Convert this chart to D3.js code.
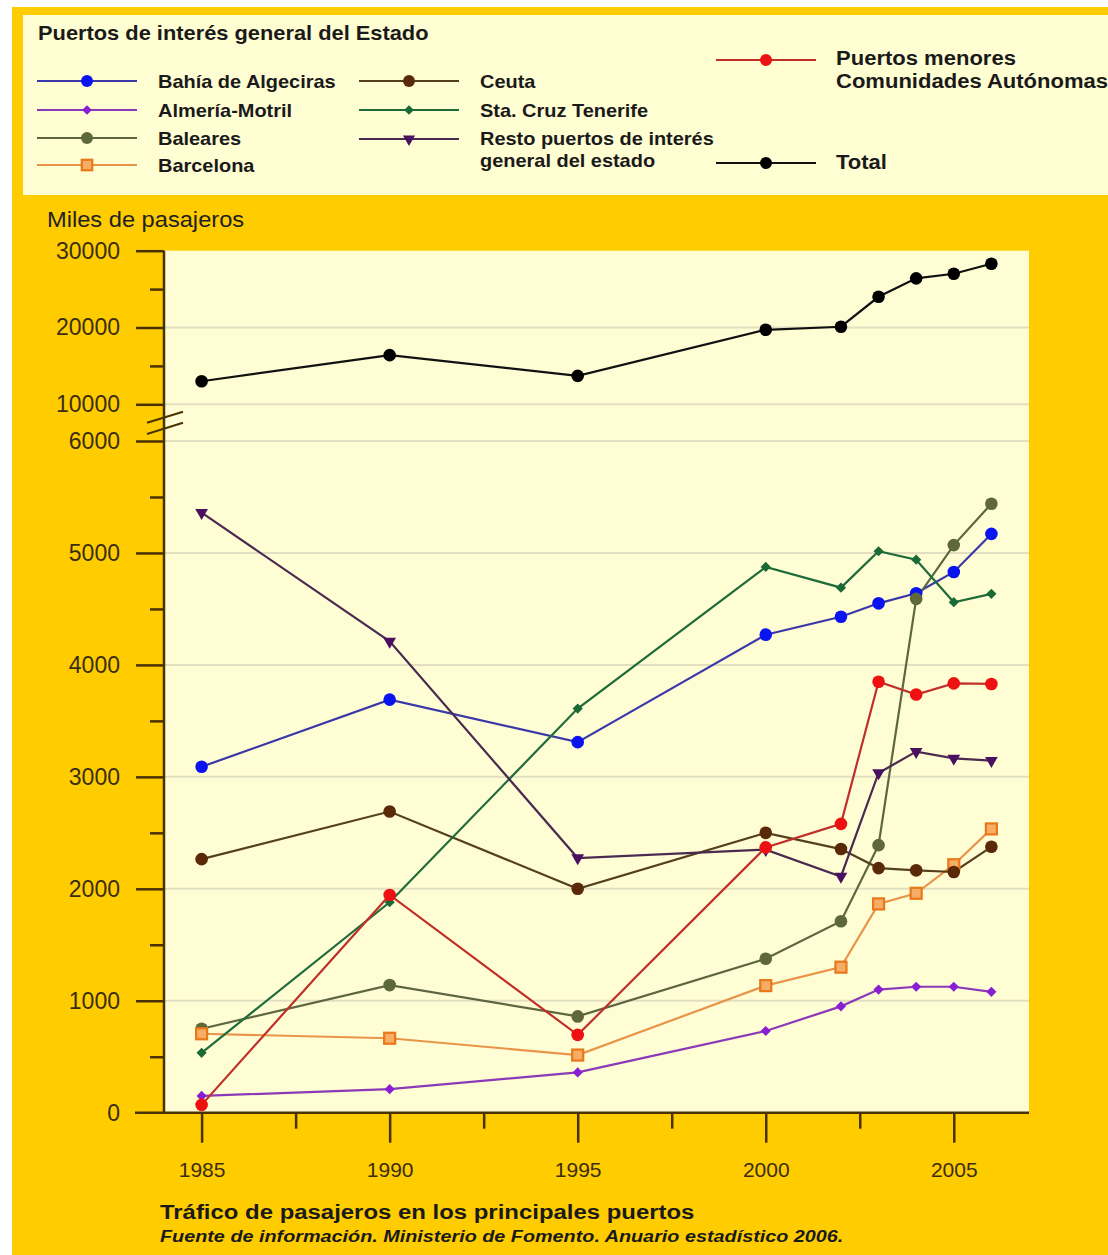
<!DOCTYPE html>
<html><head><meta charset="utf-8">
<script src="https://cdn.jsdelivr.net/npm/d3@7"></script>
<style>body{margin:0;background:#fff}svg{display:block}text{font-family:"Liberation Sans",Arial,sans-serif}</style>
</head><body>
<script>
// ---------- DATA ----------
const years = [1985, 1990, 1995, 2000, 2002, 2003, 2004, 2005, 2006];
const algeciras = [3090, 3690, 3310, 4270, 4430, 4550, 4640, 4830, 5170];
const almeria   = [150, 210, 360, 730, 950, 1100, 1125, 1125, 1080];
const baleares  = [750, 1140, 860, 1375, 1710, 2390, 4590, 5070, 5440];
const barcelona = [705, 665, 515, 1135, 1300, 1865, 1960, 2215, 2535];
const ceuta     = [2265, 2690, 2000, 2500, 2355, 2185, 2165, 2150, 2375];
const tenerife  = [535, 1880, 3610, 4875, 4690, 5015, 4940, 4560, 4635];
const resto     = [5360, 4210, 2275, 2350, 2110, 3035, 3225, 3165, 3145];
const menores   = [70, 1945, 695, 2370, 2580, 3850, 3735, 3835, 3830];
const total     = [13000, 16400, 13700, 19700, 20100, 24000, 26400, 27000, 28300];

const xTickYears = [1985, 1990, 1995, 2000, 2005];
const xMinorYears = [1987.5, 1992.5, 1997.5, 2002.5];
const yTopMajor = [10000, 20000, 30000];
const yTopMinor = [15000, 25000];
const yBotMajor = [0, 1000, 2000, 3000, 4000, 5000, 6000];
const yBotMinor = [500, 1500, 2500, 3500, 4500, 5500];

const legendTitle = "Puertos de interés general del Estado";
const yTitle = "Miles de pasajeros";
const chartTitle = "Tráfico de pasajeros en los principales puertos";
const sourceText = "Fuente de información. Ministerio de Fomento. Anuario estadístico 2006.";

const series = [
  {name:["Bahía de Algeciras"], values:algeciras, line:"#3a38a8", mark:"#0a14f0", shape:"circle"},
  {name:["Almería-Motril"], values:almeria, line:"#8a3ab8", mark:"#8a1ed2", shape:"diamond"},
  {name:["Baleares"], values:baleares, line:"#5d6640", mark:"#5e6838", shape:"circle"},
  {name:["Barcelona"], values:barcelona, line:"#e8954a", mark:"#e8781a", shape:"square"},
  {name:["Ceuta"], values:ceuta, line:"#54401f", mark:"#5a2a08", shape:"circle"},
  {name:["Sta. Cruz Tenerife"], values:tenerife, line:"#1f6b3a", mark:"#1a6a35", shape:"diamond"},
  {name:["Resto puertos de interés","general del estado"], values:resto, line:"#4a2a50", mark:"#4a1060", shape:"triangle"},
  {name:["Puertos menores","Comunidades Autónomas"], values:menores, line:"#c0302a", mark:"#ee1111", shape:"circle"},
  {name:["Total"], values:total, line:"#111111", mark:"#000000", shape:"circle"}
];

// ---------- LAYOUT ----------
const W = 1108, H = 1255;
const P = {l:164, r:1029, t:250.7, b:1112.7};
const BG = "#FFCC00", PANEL = "#FFFDD4", AXIS = "#4a3200", GRID = "#e2dfc0";

const svg = d3.select("body").append("svg").attr("width", W).attr("height", H);
svg.append("rect").attr("width", W).attr("height", H).attr("fill", "#fff");
svg.append("rect").attr("x", 12).attr("y", 7).attr("width", W-12).attr("height", H-7).attr("fill", BG);
svg.append("rect").attr("x", 23).attr("y", 15).attr("width", W-23).attr("height", 180).attr("fill", "#FFFDD2");
svg.append("rect").attr("x", P.l).attr("y", P.t).attr("width", P.r-P.l).attr("height", P.b-P.t).attr("fill", PANEL);

// text helper (horizontal stretch to match the reference's wide lettering)
function addText(g, tx, ty, str, size, opts){
  opts = opts || {};
  return g.append("text")
    .attr("transform", `translate(${tx},${ty}) scale(${opts.sx || 1},1)`)
    .attr("dy", opts.dy || null)
    .attr("font-size", size)
    .attr("font-weight", opts.bold ? "bold" : null)
    .attr("font-style", opts.italic ? "italic" : null)
    .attr("fill", opts.fill || "#1a1a1a")
    .text(str);
}

// scales
const x = d3.scaleLinear().domain([1984, 2007]).range([P.l, P.r]);
const yTop = d3.scaleLinear().domain([10000, 30000]).range([404.3, P.t]);
const yBot = d3.scaleLinear().domain([0, 6000]).range([P.b, 441]);
const y = v => v >= 10000 ? yTop(v) : yBot(v);

// gridlines
const gridVals = [20000, 10000, 6000, 5000, 4000, 3000, 2000, 1000];
svg.append("g").selectAll("line").data(gridVals).join("line")
  .attr("x1", P.l).attr("x2", P.r).attr("y1", d => y(d)).attr("y2", d => y(d))
  .attr("stroke", GRID).attr("stroke-width", 2);

// y axes
function styleAxis(g){
  g.select(".domain").remove();
  g.selectAll(".tick line").attr("stroke", AXIS).attr("stroke-width", 2.5);
  g.selectAll(".tick text").attr("fill", "#3b2e10").attr("font-size", 23)
    .attr("font-family", "Liberation Sans, Arial, sans-serif");
}
const fmt = d3.format("d");
svg.append("g").attr("transform", `translate(${P.l},0)`)
  .call(d3.axisLeft(yTop).tickValues(yTopMajor).tickSize(28).tickPadding(16).tickFormat(fmt)).call(styleAxis);
svg.append("g").attr("transform", `translate(${P.l},0)`)
  .call(d3.axisLeft(yTop).tickValues(yTopMinor).tickSize(14).tickFormat("")).call(styleAxis);
svg.append("g").attr("transform", `translate(${P.l},0)`)
  .call(d3.axisLeft(yBot).tickValues(yBotMajor.filter(v=>v>0)).tickSize(28).tickPadding(16).tickFormat(fmt)).call(styleAxis);
svg.append("g").attr("transform", `translate(${P.l},0)`)
  .call(d3.axisLeft(yBot).tickValues(yBotMinor).tickSize(14).tickFormat("")).call(styleAxis);
// zero label (its tick is the x-axis line extension)
svg.append("text").attr("x", 120).attr("y", y(0)).attr("dy", "0.35em").attr("text-anchor", "end")
  .attr("fill", "#3b2e10").attr("font-size", 23).text("0");

// x axis
svg.append("g").attr("transform", `translate(0,${P.b})`)
  .call(d3.axisBottom(x).tickValues(xTickYears).tickSize(30).tickPadding(19).tickFormat(fmt)).call(styleAxis)
  .selectAll(".tick text").attr("font-size", 21);
svg.append("g").attr("transform", `translate(0,${P.b})`)
  .call(d3.axisBottom(x).tickValues(xMinorYears).tickSize(16).tickFormat("")).call(styleAxis);

// axis lines
svg.append("line").attr("x1", P.l).attr("x2", P.l).attr("y1", P.t).attr("y2", P.b)
  .attr("stroke", AXIS).attr("stroke-width", 2.5);
svg.append("line").attr("x1", 135).attr("x2", P.r).attr("y1", P.b).attr("y2", P.b)
  .attr("stroke", AXIS).attr("stroke-width", 2.5);
// break marks
svg.append("line").attr("x1", 147).attr("y1", 422.7).attr("x2", 183).attr("y2", 411.7).attr("stroke", AXIS).attr("stroke-width", 2);
svg.append("line").attr("x1", 147).attr("y1", 434).attr("x2", 183).attr("y2", 422.7).attr("stroke", AXIS).attr("stroke-width", 2);

// markers
function drawMarker(g, shape, color, cx, cy, s){
  s = s || 1;
  if (shape === "circle") {
    g.append("circle").attr("cx", cx).attr("cy", cy).attr("r", 6.3*s).attr("fill", color);
  } else if (shape === "diamond") {
    g.append("path").attr("d", d3.symbol(d3.symbolSquare, 52*s*s)()).attr("fill", color)
      .attr("transform", `translate(${cx},${cy}) rotate(45)`);
  } else if (shape === "square") {
    g.append("rect").attr("x", cx-5.5*s).attr("y", cy-5.5*s).attr("width", 11*s).attr("height", 11*s)
      .attr("fill", "#f6ad66").attr("stroke", color).attr("stroke-width", 2.2);
  } else if (shape === "triangle") {
    g.append("path").attr("d", d3.symbol(d3.symbolTriangle, 70*s*s)()).attr("fill", color)
      .attr("transform", `translate(${cx},${cy}) rotate(180)`);
  }
}

const line = d3.line().x((d,i) => x(years[i])).y(d => y(d));
const plot = svg.append("g");
series.forEach(s => {
  plot.append("path").attr("d", line(s.values)).attr("fill", "none")
    .attr("stroke", s.line).attr("stroke-width", 2.2);
});
series.forEach(s => {
  const g = plot.append("g");
  s.values.forEach((v,i) => drawMarker(g, s.shape, s.mark, x(years[i]), y(v)));
});

// axis title
addText(svg, 47, 227, yTitle, 21.5, {sx:1.1, fill:"#222"});

// legend
addText(svg, 38, 40, legendTitle, 19.5, {bold:true, sx:1.12});
const legendPos = [
  {lx:37, mx:87, tx:158, y:81, fs:19, sx:1.05},
  {lx:37, mx:87, tx:158, y:110, fs:19, sx:1.05},
  {lx:37, mx:87, tx:158, y:138, fs:19, sx:1.05},
  {lx:37, mx:87, tx:158, y:165, fs:19, sx:1.05},
  {lx:359, mx:409, tx:480, y:81, fs:19, sx:1.05},
  {lx:359, mx:409, tx:480, y:110, fs:19, sx:1.05},
  {lx:359, mx:409, tx:480, y:139, ty:[138,160], fs:19, sx:1.05},
  {lx:716, mx:766, tx:836, y:60, ty:[58,81], fs:19.5, sx:1.13},
  {lx:716, mx:766, tx:836, y:163, ty:[162], fs:19.5, sx:1.13}
];
const lg = svg.append("g");
series.forEach((s, i) => {
  const p = legendPos[i];
  lg.append("line").attr("x1", p.lx).attr("x2", p.lx+100).attr("y1", p.y).attr("y2", p.y)
    .attr("stroke", s.line).attr("stroke-width", 2);
  drawMarker(lg, s.shape, s.mark, p.mx, p.y, 0.95);
  const tys = p.ty || [p.y];
  s.name.forEach((t, k) => addText(lg, p.tx, tys[k], t, p.fs, {bold:true, sx:p.sx, dy:"0.35em"}));
});

// titles
addText(svg, 160, 1219, chartTitle, 21, {bold:true, sx:1.14});
addText(svg, 160, 1242, sourceText, 16.5, {bold:true, italic:true, sx:1.2});
</script>
</body></html>
